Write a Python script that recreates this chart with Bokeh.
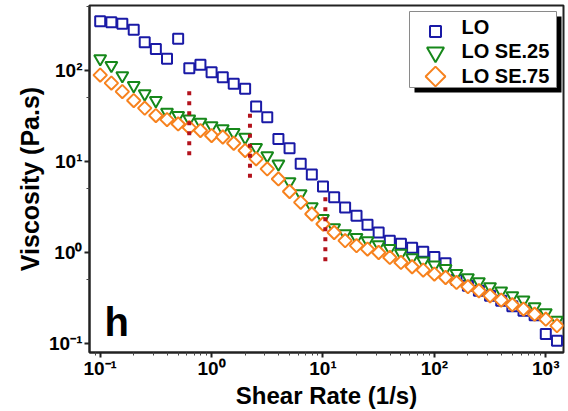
import math
from bokeh.plotting import figure
from bokeh.models import FixedTicker, Label, BoxAnnotation, Range1d, LinearScale
from bokeh.embed import file_html
from bokeh.resources import INLINE

# ---- data ----
shear_rate = [0.1, 0.126, 0.158, 0.2, 0.251, 0.316, 0.398, 0.501, 0.631, 0.794,
              1.0, 1.26, 1.58, 2.0, 2.51, 3.16, 3.98, 5.01, 6.31, 7.94,
              10.0, 12.6, 15.8, 20.0, 25.1, 31.6, 39.8, 50.1, 63.1, 79.4,
              100, 126, 158, 200, 251, 316, 398, 501, 631, 794,
              1000, 1260]

lo = [348, 340, 327, 281, 205, 173, 135, 223, 106, 116,
      95.7, 84.3, 71.4, 63.0, 40.2, 30.6, 17.7, 14.0, 9.45, 7.18,
      5.30, 4.04, 3.13, 2.54, 2.02, 1.66, 1.35, 1.25, 1.13, 1.02,
      0.89, 0.76, 0.50, 0.43, 0.38, 0.335, 0.295, 0.257, 0.229, 0.204,
      0.127, 0.107]

lo_se25 = [135, 114, 88.0, 68.4, 55.5, 46.8, 34.8, 32.0, 29.4, 27.0,
           24.8, 22.9, 20.9, 18.5, 14.3, 11.6, 9.42, 6.01, 4.44, 3.19,
           2.36, 1.87, 1.61, 1.46, 1.35, 1.22, 1.11, 0.98, 0.879, 0.807,
           0.730, 0.668, 0.590, 0.530, 0.479, 0.422, 0.378, 0.336, 0.301, 0.253,
           0.218, 0.180]

lo_se75 = [89.1, 72.8, 58.7, 46.8, 38.6, 32.0, 28.9, 25.9, 23.6, 21.9,
           19.3, 18.6, 15.9, 13.2, 10.7, 8.30, 6.44, 4.68, 3.56, 2.65,
           2.06, 1.66, 1.35, 1.19, 1.09, 1.00, 0.883, 0.778, 0.698, 0.641,
           0.579, 0.531, 0.469, 0.421, 0.380, 0.335, 0.300, 0.267, 0.239, 0.210,
           0.185, 0.157]

series_names = ["LO", "LO SE.25", "LO SE.75"]

# red dotted transition markers
guide_x = [0.63, 2.21, 10.5]
guide_top = [59.2, 33.6, 4.04]
guide_bottom = [10.7, 5.9, 0.746]

x_ticks = [0.1, 1, 10, 100, 1000]
x_tick_labels = ["10\u207b\u00b9", "10\u2070", "10\u00b9", "10\u00b2", "10\u00b3"]
y_ticks = [0.1, 1, 10, 100]
y_tick_labels = ["10\u207b\u00b9", "10\u2070", "10\u00b9", "10\u00b2"]

x_title = "Shear Rate (1/s)"
y_title = "Viscosity (Pa.s)"
panel_letter = "h"

# ---- figure ----
FONT = "Liberation Sans"
FRAME_W, FRAME_H = 474, 347
p = figure(width=567, height=411, x_axis_type="log", y_axis_type="log",
           x_range=Range1d(10 ** -1.096, 10 ** 3.159),
           y_range=Range1d(10 ** -1.099, 10 ** 2.715),
           output_backend="svg", toolbar_location=None,
           min_border_left=89, min_border_right=4, min_border_top=5,
           min_border_bottom=59)

# pixel coordinate system of the frame (for the legend keys)
p.extra_x_ranges = {"px": Range1d(0, FRAME_W)}
p.extra_y_ranges = {"px": Range1d(0, FRAME_H)}
p.extra_x_scales = {"px": LinearScale()}
p.extra_y_scales = {"px": LinearScale()}

p.xgrid.visible = False
p.ygrid.visible = False
p.outline_line_color = "#222222"
p.outline_line_width = 2
p.background_fill_color = "white"
p.border_fill_color = "white"

x_minor = [m * 10 ** e for e in range(-2, 4) for m in range(2, 10)]
y_minor = [5 * 10 ** e for e in range(-2, 3)]
p.xaxis.ticker = FixedTicker(ticks=x_ticks, minor_ticks=x_minor)
p.yaxis.ticker = FixedTicker(ticks=y_ticks, minor_ticks=y_minor)
p.xaxis.major_label_overrides = dict(zip(x_ticks, x_tick_labels))
p.yaxis.major_label_overrides = dict(zip(y_ticks, y_tick_labels))

for ax in (p.xaxis, p.yaxis):
    ax.axis_line_width = 2
    ax.axis_line_color = "#222222"
    ax.major_tick_line_width = 2
    ax.major_tick_line_color = "#222222"
    ax.minor_tick_line_width = 1
    ax.minor_tick_line_color = "#444444"
    ax.major_tick_in = 0
    ax.major_tick_out = 5
    ax.minor_tick_in = 0
    ax.minor_tick_out = 3
    ax.major_label_text_font = FONT
    ax.major_label_text_font_style = "bold"
    ax.major_label_text_font_size = "19px"
    ax.major_label_text_color = "black"
    ax.axis_label_text_font = FONT
    ax.axis_label_text_font_style = "bold"
    ax.axis_label_text_color = "black"
p.xaxis.major_label_standoff = 0
p.yaxis.major_label_standoff = 2

p.xaxis.axis_label = x_title
p.yaxis.axis_label = y_title
p.xaxis.axis_label_text_font_size = "24px"
p.yaxis.axis_label_text_font_size = "25px"
p.xaxis.axis_label_standoff = 0
p.yaxis.axis_label_standoff = 2

COLORS = ["#1a1aa6", "#16881a", "#f7821e"]
r_lo = p.scatter(shear_rate, lo, marker="square", size=10,
                 line_color=COLORS[0], line_width=2, fill_color="white")
r_25 = p.scatter(shear_rate, lo_se25, marker="inverted_triangle", size=12,
                 line_color=COLORS[1], line_width=2, fill_color="white")
r_75 = p.scatter(shear_rate, lo_se75, marker="square", angle=math.pi / 4, size=9.5,
                 line_color=COLORS[2], line_width=2, fill_color="white")

p.segment(x0=guide_x, y0=guide_top, x1=guide_x, y1=guide_bottom,
          line_color="#b3121c", line_width=4, line_dash="4 6")

# ---- legend (box with drop shadow) ----
p.add_layout(BoxAnnotation(left=325, right=472, top=336, bottom=260,
                           left_units="screen", right_units="screen",
                           top_units="screen", bottom_units="screen",
                           fill_color="black", fill_alpha=1.0, line_color=None))
p.add_layout(BoxAnnotation(left=320, right=467, top=341, bottom=265,
                           left_units="screen", right_units="screen",
                           top_units="screen", bottom_units="screen",
                           fill_color="white", fill_alpha=1.0,
                           line_color="#8a8a8a", line_width=1, line_alpha=1.0))

key_x = 346
key_styles = [dict(marker="square", size=11, angle=0.0),
              dict(marker="inverted_triangle", size=17, angle=0.0),
              dict(marker="square", size=14, angle=math.pi / 4)]
key_y = [321, 300, 276]
text_y = [325.5, 301.5, 276.5]
for name, color, style, ky, ty in zip(series_names, COLORS, key_styles, key_y, text_y):
    p.scatter(x=[key_x], y=[ky], x_range_name="px", y_range_name="px",
              line_color=color, line_width=2, fill_color="white",
              level="overlay", **style)
    p.add_layout(Label(x=372, y=ty, x_units="screen", y_units="screen", text=name,
                       text_align="left", text_baseline="middle",
                       text_font=FONT, text_font_style="bold", text_font_size="20px",
                       text_color="black", level="overlay"))

p.add_layout(Label(x=15, y=9, x_units="screen", y_units="screen", text=panel_letter,
                   text_font=FONT, text_font_style="bold", text_font_size="40px",
                   text_color="black"))

open("out.html", "w").write(file_html(p, INLINE))
